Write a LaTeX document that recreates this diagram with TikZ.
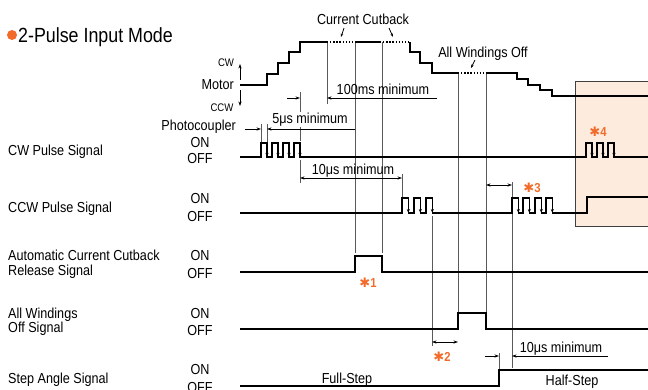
\documentclass[tikz,border=0pt]{standalone}
\usepackage{fontspec}
\setmainfont{Liberation Sans}[FakeStretch=0.87]
\newfontfamily\symfont{DejaVu Sans}
\usetikzlibrary{arrows.meta}
\definecolor{orng}{HTML}{F26B2A}
\definecolor{peach}{HTML}{FDEBDD}
\definecolor{guidec}{HTML}{5A5A5A}
\begin{document}
\begin{tikzpicture}[x=1pt,y=-1pt,
  sig/.style={line width=1.3pt,black},
  guide/.style={line width=0.9pt,guidec},
  dim/.style={line width=0.8pt,black},
  tipa/.style={-{Stealth[length=4.5pt,width=3.2pt]}},
  tipb/.style={{Stealth[length=4.5pt,width=3.2pt]}-{Stealth[length=4.5pt,width=3.2pt]}},
  edgetip/.style={line width=1pt,-{Stealth[length=4pt,width=3pt]}},
  lbl/.style={font=\fontsize{14.5}{16}\selectfont,inner sep=0pt,anchor=base},
  small/.style={font=\fontsize{11}{12}\selectfont,inner sep=0pt,anchor=base},
  star/.style={font=\fontsize{13}{15}\selectfont\bfseries,text=orng,inner sep=0pt,anchor=base},
  dotline/.style={line width=1.3pt,dash pattern=on 1.3pt off 1.8pt}]
\useasboundingbox (0,0) rectangle (648,389);
% highlighted box
\draw[fill=peach,draw=black!75,line width=1pt] (648,81) -- (575,81) -- (575,226) -- (648,226);
% title
\fill[orng] (12,35) circle (5);
\node[font=\fontsize{20.5}{22}\selectfont,inner sep=0pt,anchor=base west] (title) at (18,42.3) {2-Pulse Input Mode};
% guide lines
\draw[guide] (327,42) -- (327,104);
\draw[guide] (355,42) -- (355,253);
\draw[guide] (382,42) -- (382,253);
\draw[guide] (300,92) -- (300,141);
\draw[guide] (300,160) -- (300,183);
\draw[guide] (402,174) -- (402,198);
\draw[guide] (432,216) -- (432,346);
\draw[guide] (458,73) -- (458,313);
\draw[guide] (486,73) -- (486,313);
\draw[guide] (512,182) -- (512,368);
\draw[guide] (499,353) -- (499,370);
\draw[guide] (261,124) -- (261,143);
\draw[guide] (267,124) -- (267,143);
% motor profile
\draw[sig] (240,85) -- (267,85) -- (267,74) -- (278,74) -- (278,63) -- (289,63) -- (289,52) -- (300,52) -- (300,42) -- (327,42);
\draw[dotline] (327,42) -- (355,42);
\draw[sig] (355,42) -- (380,42);
\draw[dotline] (380,42) -- (410,42);
\draw[sig] (410,42) -- (410,52) -- (420,52) -- (420,63) -- (432,63) -- (432,73) -- (458,73);
\draw[dotline] (458,73) -- (486,73);
\draw[sig] (486,73) -- (517,73) -- (517,79) -- (528,79) -- (528,85) -- (540,85) -- (540,90) -- (552,90) -- (552,96) -- (648,96);
% motor labels
\node[small] (cw) at (226,66) {CW};
\node[lbl,anchor=base east] (motor) at (234,89.2) {Motor};
\node[small] (ccw) at (222,111) {CCW};
\coordinate (upA) at (240,80); \coordinate (upB) at (240,64);
\coordinate (dnA) at (240,90); \coordinate (dnB) at (240,106);
\draw[dim,tipa,line width=0.7pt] (upA) -- (upB);
\draw[dim,tipa,line width=0.7pt] (dnA) -- (dnB);
\node[lbl,anchor=base east] (photo) at (236,130.2) {Photocoupler};
% top annotations
\node[lbl] (cc) at (363,24.2) {Current Cutback};
\coordinate (ccA) at (344,28); \coordinate (ccB) at (341,37);
\coordinate (ccC) at (389,28); \coordinate (ccD) at (393,37);
\draw[dim,-{Stealth[length=3.5pt,width=2.5pt]}] (ccA) -- (ccB);
\draw[dim,-{Stealth[length=3.5pt,width=2.5pt]}] (ccC) -- (ccD);
\node[lbl] (awo) at (483,57.2) {All Windings Off};
\coordinate (awA) at (475,60); \coordinate (awB) at (471,68);
\draw[dim,-{Stealth[length=3.5pt,width=2.5pt]}] (awA) -- (awB);
% 100ms
\node[lbl] (hms) at (383,94.2) {100ms minimum};
\draw[dim,tipa] (287,98) -- (300,98);
\draw[dim,tipa] (437,98) -- (327,98);
% 5us
\node[lbl,fill=white,inner sep=1pt] (fus) at (310,123.2) {5μs minimum};
\draw[dim,tipa] (245,129) -- (261,129);
\draw[dim,tipa] (355,129) -- (267,129);
% 10us (1)
\node[lbl] (tus1) at (353,174.2) {10μs minimum};
\draw[dim,tipb] (300,178) -- (402,178);
% left labels
\node[lbl,anchor=base west] (l1) at (8,155.2) {CW Pulse Signal};
\node[lbl,anchor=base west] (l2) at (8,212.2) {CCW Pulse Signal};
\node[lbl,anchor=base west] (l3a) at (8,260.2) {Automatic Current Cutback};
\node[lbl,anchor=base west] (l3b) at (8,275.2) {Release Signal};
\node[lbl,anchor=base west] (l4a) at (8,318.2) {All Windings};
\node[lbl,anchor=base west] (l4b) at (8,332.2) {Off Signal};
\node[lbl,anchor=base west] (l5) at (8,383.2) {Step Angle Signal};
\foreach \n/\yon/\yoff in {1/147.2/163.2,2/203.2/221.2,3/260.2/278.2,4/318.2/335.2,5/374.2/392.2}{
  \node[lbl] (on\n) at (200,\yon) {ON};
  \node[lbl] (off\n) at (200,\yoff) {OFF};
}
% CW pulse signal
\draw[sig] (240,157) foreach \p in {261,272,283,294,586,597,608}{ -- (\p,157) -- (\p,143) -- (\p+6,143) -- (\p+6,157)} -- (648,157);
\foreach \p in {261,272,283,294,586,597,608} \draw[edgetip] (\p+6,147) -- (\p+6,157);
% CCW pulse signal
\draw[sig] (240,213) foreach \p in {402,414,426,512,523,535,546}{ -- (\p,213) -- (\p,198) -- (\p+6.3,198) -- (\p+6.3,213)} -- (587,213) -- (587,197) -- (648,197);
\foreach \p in {402,414,426,512,523,535,546} \draw[edgetip] (\p+6.3,203) -- (\p+6.3,213);
% auto current cutback release
\draw[sig] (240,272) -- (355,272) -- (355,256) -- (382,256) -- (382,272) -- (648,272);
% all windings off
\draw[sig] (240,329) -- (458,329) -- (458,313) -- (486,313) -- (486,329) -- (648,329);
% step angle
\draw[sig] (240,386) -- (499,386) -- (499,370) -- (648,370);
\node[lbl] (fs) at (347,383.2) {Full-Step};
\node[lbl] (hs) at (572,385.2) {Half-Step};
% dimensions lower
\draw[dim,tipb] (432,342) -- (458,342);
\draw[dim,tipb] (486,185) -- (512,185);
\node[lbl] (tus2) at (561,352.2) {10μs minimum};
\draw[dim,tipa] (485,356) -- (499,356);
\draw[dim,tipa] (608,356) -- (512,356);
% notes
\node[star] (n1) at (368,287.7) {{\symfont ✱}1};
\node[star] (n2) at (442,361.7) {{\symfont ✱}2};
\node[star] (n3) at (532,192.7) {{\symfont ✱}3};
\node[star] (n4) at (598,136.7) {{\symfont ✱}4};
\end{tikzpicture}
\end{document}
